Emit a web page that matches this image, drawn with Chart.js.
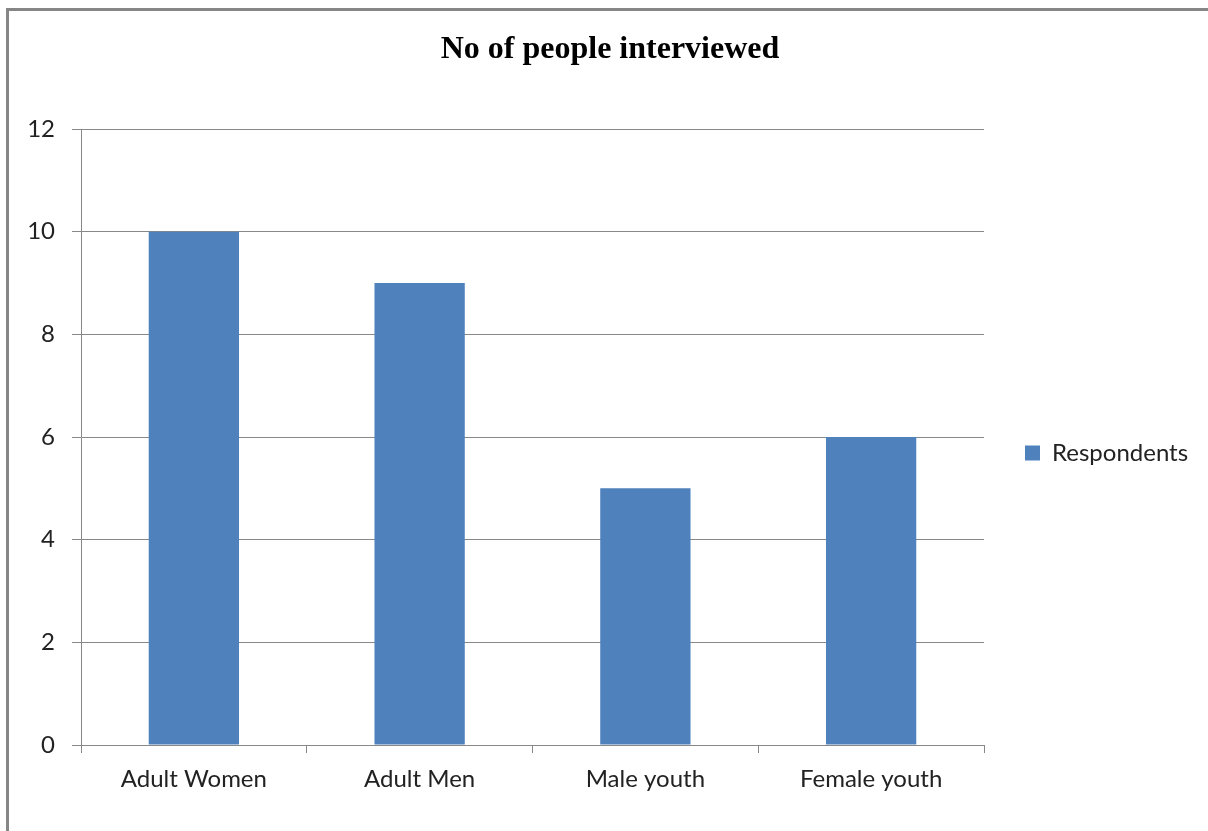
<!DOCTYPE html>
<html>
<head>
<meta charset="utf-8">
<script src="https://cdn.jsdelivr.net/npm/chart.js@4.4.1/dist/chart.umd.min.js"></script>
<style>
  html, body { margin: 0; padding: 0; background: #fff; }
  #wrap { width: 1208px; height: 831px; }
</style>
</head>
<body>
<div id="wrap"><canvas id="c" width="1208" height="831"></canvas></div>
<script>
const categories = ['Adult Women', 'Adult Men', 'Male youth', 'Female youth'];
const respondents = [10, 9, 5, 6];
const seriesName = 'Respondents';
const chartTitle = 'No of people interviewed';
const yMin = 0, yMax = 12, yStep = 2;

const FONT = 'Lato';
const FS = 24;
const GRID = '#888888';

const legendPad = 41, legendBox = 15;

const borderPlugin = {
  id: 'frame',
  beforeDraw(chart) {
    const ctx = chart.ctx;
    ctx.save();
    ctx.fillStyle = '#ffffff';
    ctx.fillRect(0, 0, chart.width, chart.height);
    ctx.strokeStyle = '#868686';
    ctx.lineWidth = 3;
    ctx.strokeRect(7.5, 9.5, chart.width + 20, chart.height + 20);
    ctx.restore();
  }
};

// keep the legend column a fixed width so the plot area ends where the reference does
const legendWidthPlugin = {
  id: 'legendWidth',
  beforeLayout(chart) {
    const lg = chart.legend;
    if (lg && !lg._fixedFit) {
      const orig = lg.fit;
      lg.fit = function () { orig.call(this); this.width = 1208 - 984; };
      lg._fixedFit = true;
    }
  }
};

new Chart(document.getElementById('c'), {
  type: 'bar',
  data: {
    labels: categories,
    datasets: [{
      label: seriesName,
      data: respondents,
      backgroundColor: '#4F81BD',
      borderWidth: 0,
      barPercentage: 0.4,
      categoryPercentage: 1.0
    }]
  },
  options: {
    responsive: false,
    devicePixelRatio: 1,
    animation: false,
    layout: { padding: { top: 0, left: 12, bottom: 0, right: 0 } },
    plugins: {
      title: {
        display: true,
        text: chartTitle,
        color: '#000',
        font: { family: 'Liberation Serif', size: 32, weight: 'bold', lineHeight: 1.2 },
        padding: { top: 31, bottom: 59.6 }
      },
      legend: {
        position: 'right',
        fullSize: false,
        align: 'center',
        title: { display: true, text: '', padding: 8.8, font: { size: 12 } },
        labels: {
          boxWidth: legendBox,
          boxHeight: legendBox,
          padding: legendPad,
          color: '#222',
          font: { family: FONT, size: FS }
        }
      },
      tooltip: { enabled: false }
    },
    scales: {
      x: {
        grid: { display: true, drawOnChartArea: false, drawTicks: true, tickLength: 8, offset: true, color: GRID },
        border: { display: true, color: GRID },
        ticks: { color: '#222', font: { family: FONT, size: FS }, padding: 12, maxRotation: 0 },
        afterFit(scale) { scale.height = 86; }
      },
      y: {
        min: yMin, max: yMax,
        grid: { color: GRID, tickLength: 9 },
        border: { display: true, color: GRID },
        ticks: { stepSize: yStep, color: '#222', font: { family: FONT, size: FS }, padding: 17 },
        afterFit(scale) { scale.width = 69; }
      }
    }
  },
  plugins: [borderPlugin, legendWidthPlugin]
});
</script>
</body>
</html>
